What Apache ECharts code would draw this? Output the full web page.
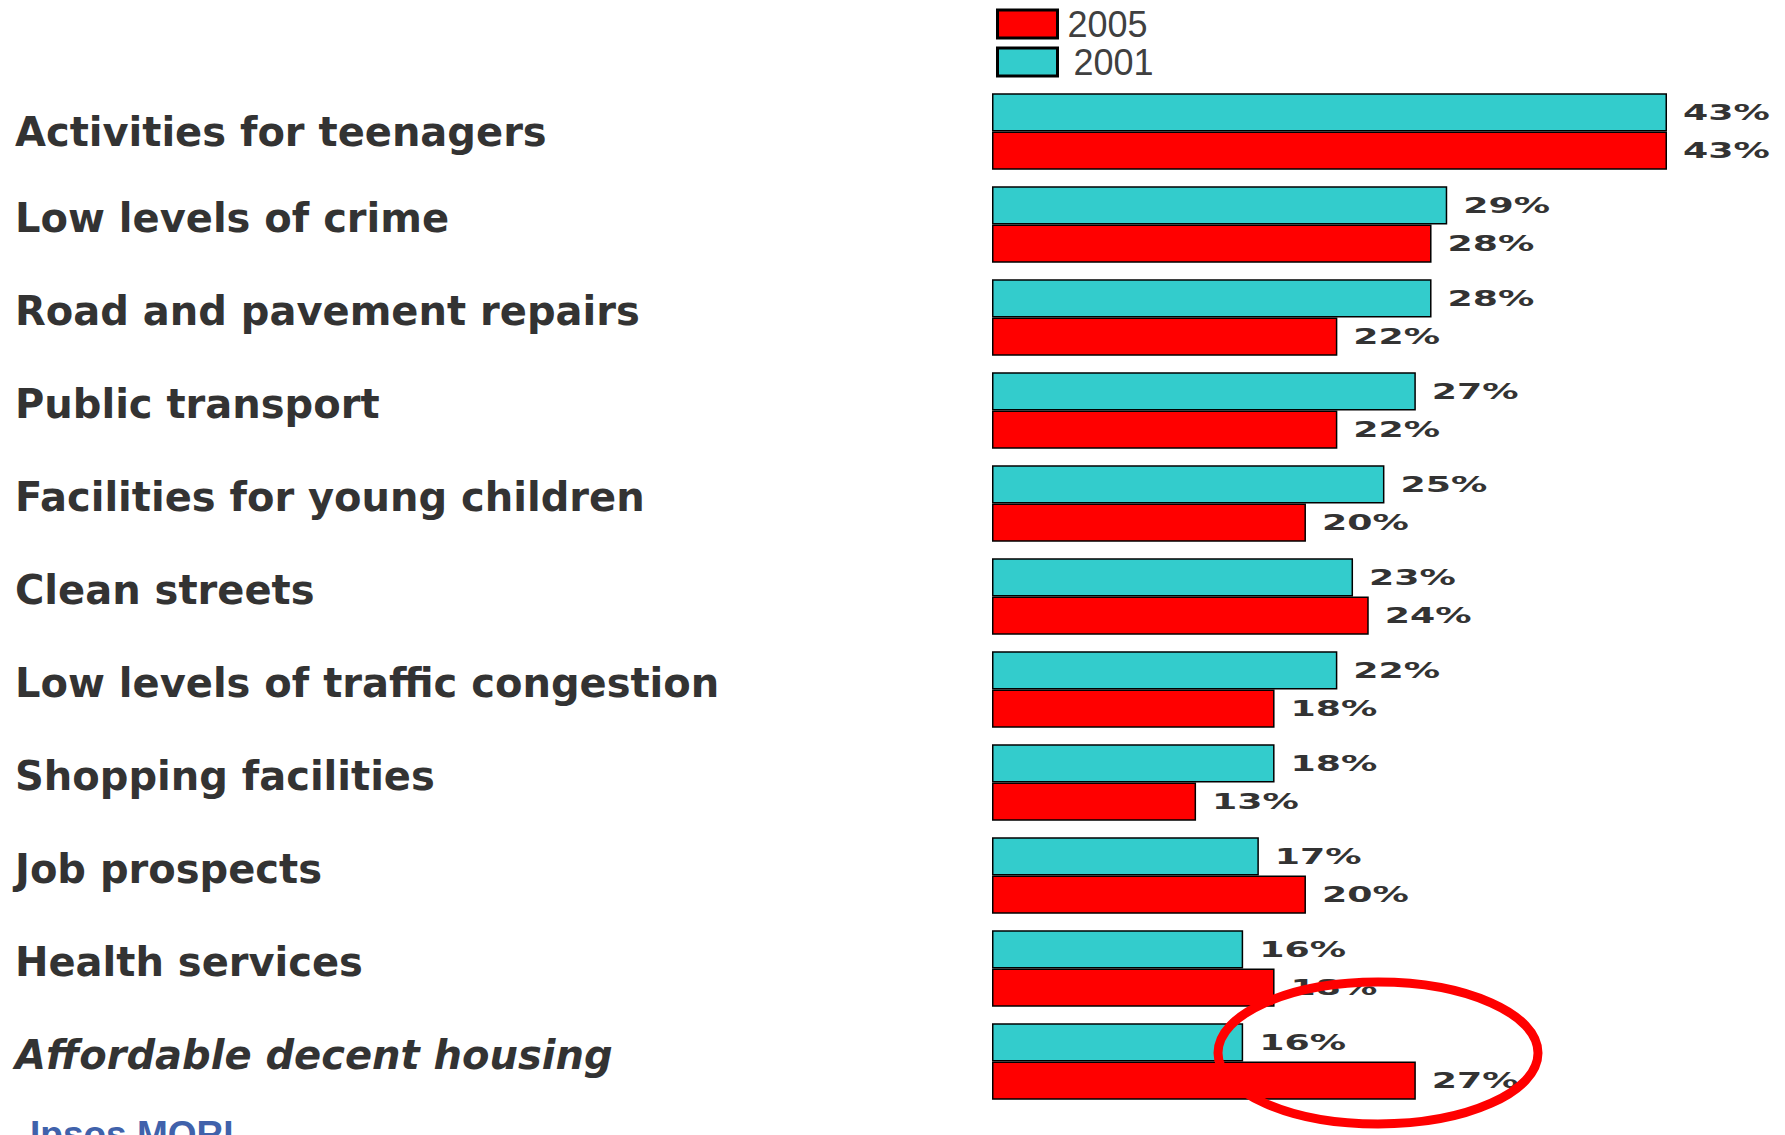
<!DOCTYPE html>
<html>
<head>
<meta charset="utf-8">
<script src="https://cdn.jsdelivr.net/npm/echarts@6/dist/echarts.min.js"></script>
<style>
html,body{margin:0;padding:0;background:#fff;}
#chart{width:1785px;height:1135px;}
</style>
</head>
<body>
<div id="chart"></div>
<script>
const categories = [
  'Activities for teenagers',
  'Low levels of crime',
  'Road and pavement repairs',
  'Public transport',
  'Facilities for young children',
  'Clean streets',
  'Low levels of traffic congestion',
  'Shopping facilities',
  'Job prospects',
  'Health services',
  'Affordable decent housing'
];
const values2001 = [43, 29, 28, 27, 25, 23, 22, 18, 17, 16, 16];
const values2005 = [43, 28, 22, 22, 20, 24, 18, 13, 20, 18, 27];
const seriesNames = ['2005', '2001'];

const chart = echarts.init(document.getElementById('chart'), null, { renderer: 'svg' });
const valueLabel = {
  show: true,
  position: 'right',
  distance: 16,
  formatter: '{c}%',
  fontFamily: 'DejaVu Sans',
  fontWeight: 'bold',
  fontSize: 22,
  color: '#333333'
};
const catFont = { fontFamily: 'DejaVu Sans', fontWeight: 'bold', fontSize: 40, color: '#333333' };
chart.setOption({
  backgroundColor: '#ffffff',
  animation: false,
  legend: {
    data: [
      { name: seriesNames[0] },
      { name: seriesNames[1], textStyle: { padding: [0, 0, 0, 11] } }
    ],
    orient: 'vertical',
    left: 996,
    top: 6,
    padding: 0,
    icon: 'rect',
    itemWidth: 60,
    itemHeight: 28,
    itemGap: 2,
    itemStyle: { borderColor: '#000000', borderWidth: 3 },
    textStyle: {
      fontFamily: 'Liberation Sans, Arial, sans-serif',
      fontSize: 36,
      color: '#404040',
      padding: [0, 0, 0, 5]
    }
  },
  grid: {
    left: 992,
    top: 85,
    width: 675,
    height: 1023,
    outerBoundsMode: 'none'
  },
  xAxis: {
    type: 'value',
    min: 0,
    max: 43,
    show: false
  },
  yAxis: {
    type: 'category',
    data: categories,
    inverse: true,
    axisLine: { show: false },
    axisTick: { show: false },
    splitLine: { show: false },
    axisLabel: {
      align: 'left',
      margin: 977,
      formatter: function (v, i) {
        if (i === 0) return '{f|' + v + '}';
        return i === categories.length - 1 ? '{it|' + v + '}' : '{n|' + v + '}';
      },
      rich: {
        f: Object.assign({}, catFont),
        n: Object.assign({ padding: [0, 0, 14, 0] }, catFont),
        it: Object.assign({ fontStyle: 'italic', padding: [0, 0, 14, 0] }, catFont)
      }
    }
  },
  series: [
    {
      name: seriesNames[1],
      type: 'bar',
      data: values2001,
      barGap: '0%',
      barCategoryGap: '18%',
      itemStyle: { color: '#33CCCC', borderColor: '#000000', borderWidth: 1.5 },
      label: valueLabel
    },
    {
      name: seriesNames[0],
      type: 'bar',
      data: values2005,
      barGap: '0%',
      barCategoryGap: '18%',
      itemStyle: { color: '#FF0000', borderColor: '#000000', borderWidth: 1.5 },
      label: valueLabel
    }
  ],
  graphic: [
    {
      type: 'ellipse',
      z: 100,
      shape: { cx: 1378, cy: 1053, rx: 160, ry: 71 },
      style: { fill: 'none', stroke: '#FF0000', lineWidth: 9 }
    },
    {
      type: 'text',
      left: 30,
      top: 1116,
      z: 100,
      style: {
        text: 'Ipsos MORI',
        fontFamily: 'Liberation Sans, Arial, sans-serif',
        fontWeight: 'bold',
        fontSize: 37,
        fill: '#4062ab'
      }
    }
  ]
});

// the reference's value labels use a very wide, extended typeface: stretch them horizontally
document.querySelectorAll('#chart svg text').forEach(function (t) {
  if (/^\d+%$/.test(t.textContent.trim())) {
    const bb = t.getBBox();
    const x0 = bb.x;
    const cur = t.getAttribute('transform') || '';
    t.setAttribute('transform', (cur + ' translate(' + x0 + ',0) scale(1.65,1) translate(' + (-x0) + ',0)').trim());
  }
});
</script>
</body>
</html>
